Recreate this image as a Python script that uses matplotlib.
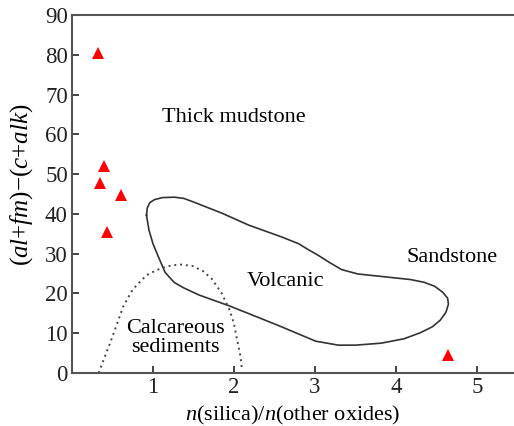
import matplotlib
matplotlib.use("Agg")
import matplotlib.pyplot as plt

plt.rcParams['font.family'] = ['Liberation Serif', 'DejaVu Serif']
plt.rcParams['mathtext.fontset'] = 'custom'
plt.rcParams['mathtext.rm'] = 'Liberation Serif'
plt.rcParams['mathtext.it'] = 'Liberation Serif:italic'

# Sample points
pts_x = [0.32, 0.39, 0.34, 0.60, 0.43, 4.64]
pts_y = [80.4, 52.0, 47.7, 44.7, 35.4, 4.5]

# Volcanic field outline
volc_x = [0.92, 0.93, 0.96, 1.02, 1.12, 1.26, 1.38, 1.50, 1.85, 2.18, 2.59, 2.80, 2.92, 3.04,
          3.18, 3.33, 3.53, 3.90, 4.18, 4.35, 4.48, 4.58, 4.64, 4.65, 4.62, 4.55, 4.45, 4.30,
          4.10, 3.82, 3.50, 3.29, 3.01, 2.59, 2.31, 1.94, 1.57, 1.38, 1.26, 1.15, 1.08, 1.00,
          0.95, 0.92]
volc_y = [39.7, 41.5, 42.8, 43.6, 44.1, 44.2, 43.9, 43.0, 40.2, 37.2, 34.2, 32.5, 31.0, 29.6,
          27.8, 26.0, 24.9, 24.1, 23.5, 22.8, 21.8, 20.3, 18.8, 17.3, 15.3, 13.3, 11.6, 10.1,
          8.6, 7.5, 7.0, 7.0, 8.0, 11.6, 13.9, 16.9, 19.6, 21.4, 22.8, 25.3, 28.6, 32.5,
          36.0, 39.7]

# Calcareous sediments boundary
calc_x = [0.33, 0.40, 0.47, 0.55, 0.63, 0.75, 0.92, 1.05, 1.17, 1.33, 1.49, 1.62, 1.73, 1.85,
          1.94, 2.00, 2.04, 2.08, 2.10]
calc_y = [0.0, 3.8, 7.5, 12.0, 16.6, 21.0, 24.6, 25.9, 26.8, 27.3, 26.9, 25.6, 23.6, 20.0,
          16.2, 12.5, 8.3, 4.3, 0.8]

xticks = [1, 2, 3, 4, 5]
yticks = [0, 10, 20, 30, 40, 50, 60, 70, 80, 90]

fig = plt.figure(figsize=(5.14, 4.26), dpi=100)
ax = fig.add_axes([72/514, 1-373/426, 1-72/514, (373-15)/426])

ax.plot(volc_x, volc_y, color='#333333', lw=1.2)
ax.plot(calc_x, calc_y, color='#444444', lw=1.4, ls=(0, (1, 2.0)))
ax.plot(pts_x, pts_y, ls='none', marker='^', color='#ff0000', markersize=9, markeredgewidth=0)

ax.text(2.0, 64.3, 'Thick mudstone', ha='center', va='center', fontsize=16)
ax.text(2.64, 22.9, 'Volcanic', ha='center', va='center', fontsize=16)
ax.text(4.70, 29.1, 'Sandstone', ha='center', va='center', fontsize=16)
ax.text(1.28, 8.7, 'Calcareous\nsediments', ha='center', va='center', fontsize=16, linespacing=1.0)

ax.set_xlim(0, 5.46)
ax.set_ylim(0, 90)
ax.set_xticks(xticks)
ax.set_yticks(yticks)
ax.tick_params(direction='in', length=5, width=1.2, labelsize=16.5, colors='#222222', pad=3)
for s in ['left', 'bottom', 'top']:
    ax.spines[s].set_linewidth(1.5)
    ax.spines[s].set_color('#555555')
ax.spines['right'].set_visible(False)

ax.set_xlabel(r'$n$(silica)/$n$(other oxides)', fontsize=16, labelpad=4)
ax.set_ylabel(r'($al$+$fm$)−($c$+$alk$)', fontsize=18)
ax.yaxis.label.set_va('center')
ax.yaxis.set_label_coords(-0.113, 0.525)

fig.savefig('out.png', dpi=100)
